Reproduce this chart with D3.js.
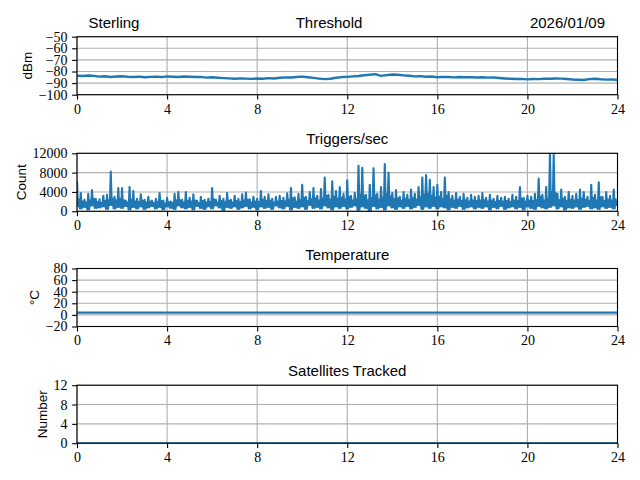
<!DOCTYPE html>
<html>
<head>
<meta charset="utf-8">
<script src="https://cdn.jsdelivr.net/npm/d3@7"></script>
<style>
body { margin: 0; background: #fff; }
.tick text { font-family: "Liberation Serif", "DejaVu Serif", serif; }
</style>
</head>
<body>
<div class="canva"></div>
<script>
// station / date header
const station = "Sterling";
const dateLabel = "2026/01/09";

// hour ticks shared by every panel
const hourTicks = [0, 4, 8, 12, 16, 20, 24];

// threshold, every 15 minutes (dBm)
const thresholdValues = [
  -83.6, -83.9, -83.4, -83.8, -84.4, -84.1, -84.7, -84.3, -84.1, -84.5,
  -84.7, -84.4, -84.9, -84.6, -84.4, -84.8, -84.2, -84.5, -84.7, -84.3,
  -84.5, -84.8, -84.6, -85.3, -85.0, -85.4, -85.7, -85.9, -86.3, -85.9,
  -86.1, -86.4, -86.0, -86.3, -85.7, -86.0, -85.4, -85.1, -85.2, -84.8,
  -84.4, -84.9, -85.5, -86.1, -86.6, -86.2, -85.4, -84.8, -84.6, -84.2,
  -83.9, -83.2, -82.8, -82.3, -83.8, -83.1, -82.6, -82.8, -83.3, -83.7,
  -84.2, -84.0, -84.5, -84.3, -85.0, -84.6, -84.8, -85.1, -84.8, -85.0,
  -84.9, -85.2, -85.0, -85.3, -85.2, -85.6, -86.0, -86.3, -86.5, -86.4,
  -86.8, -86.5, -86.6, -86.3, -86.2, -86.0, -86.1, -86.5, -86.9, -87.1,
  -87.3, -86.6, -86.2, -86.7, -87.0, -86.8, -87.3
];

// triggers/sec: local peaks every 10 minutes
const triggerPeaks = [
  6200, 3800, 2400, 3600, 4400, 2600,
  2500, 3200, 3400, 8200, 3000, 4800,
  4800, 2200, 5000, 4200, 2600, 3500,
  2400, 3000, 2200, 2600, 3800, 2200,
  2800, 2000, 3600, 4000, 2400, 4000,
  2800, 3500, 2200, 3000, 2400, 2600,
  4800, 2400, 3200, 2600, 3800, 2400,
  3200, 2600, 3500, 3900, 2500, 3000,
  2600, 4200, 3000, 3500, 2600, 3000,
  3200, 2800, 3700, 4800, 2900, 3600,
  5500, 3000, 4000, 4800, 3200, 4600,
  7000, 3400, 6200, 4200, 5000, 3600,
  6400, 3200, 3800, 9400, 9000, 3400,
  5500, 8900, 3600, 5000, 9800, 8000,
  3800, 4400, 3000, 4000, 3400, 4500,
  3600, 5000, 7000, 7500, 6500, 5000,
  5500, 4000, 7000, 4000, 3200, 3800,
  3000, 3600, 2800, 3400, 3000, 3200,
  3800, 2800, 3400, 2600, 3200, 2800,
  3000, 2600, 3400, 3000, 5000, 2800,
  3200, 3000, 3600, 6800, 3400, 5000,
  12000, 11800, 3600, 4500, 3000, 4000,
  3200, 3600, 4500, 4000, 3000, 5500,
  3400, 6000, 3000, 4000, 3200, 4500
];

// triggers/sec: secondary maxima inside each 10 minute bin
const triggerShoulders = [
  2400, 2000, 1800, 2200, 2600, 1900,
  1700, 2100, 2300, 2600, 2200, 2500,
  2300, 1800, 2400, 2000, 1900, 2200,
  1800, 2000, 1700, 1900, 2100, 1600,
  1900, 1700, 2200, 2300, 1800, 2100,
  2000, 2200, 1700, 2100, 1800, 1900,
  2500, 1800, 2100, 1900, 2200, 1800,
  2100, 1900, 2200, 2400, 1800, 2000,
  1900, 2400, 2100, 2200, 1800, 2000,
  2100, 2000, 2400, 2700, 2000, 2300,
  2800, 2100, 2500, 2700, 2200, 2600,
  3200, 2400, 3000, 2600, 2800, 2400,
  3000, 2200, 2500, 3400, 3200, 2300,
  2700, 3300, 2400, 2800, 3500, 3100,
  2500, 2700, 2200, 2600, 2300, 2700,
  2400, 2900, 3400, 3600, 3200, 2800,
  3000, 2500, 3200, 2500, 2200, 2400,
  2100, 2300, 2000, 2200, 2100, 2200,
  2300, 2000, 2200, 1900, 2100, 2000,
  2100, 1900, 2200, 2100, 2600, 2000,
  2200, 2100, 2300, 3000, 2200, 2600,
  4000, 3800, 2300, 2600, 2100, 2400,
  2200, 2300, 2600, 2400, 2100, 2800,
  2200, 2900, 2100, 2400, 2200, 2500
];

// triggers/sec: local minima inside each 10 minute bin
const triggerTroughs = [
  1100, 600, 900, 400, 1200, 700,
  800, 1000, 500, 1300, 600, 900,
  700, 1100, 400, 900, 600, 1000,
  500, 800, 1100, 600, 900, 400,
  1000, 700, 500, 1200, 800, 600,
  900, 400, 1100, 700, 500, 1000,
  600, 1200, 800, 300, 900, 700,
  1000, 500, 800, 1100, 600, 900,
  400, 1000, 700, 900, 500, 1200,
  800, 600, 1100, 400, 900, 700,
  1000, 500, 1300, 700, 900, 600,
  1200, 800, 400, 1000, 700, 1100,
  600, 900, 1200, 300, 1000, 700,
  0, 1100, 600, 900, 400, 1200,
  800, 500, 1000, 700, 1100, 600,
  900, 1300, 500, 1000, 700, 1100,
  600, 1000, 800, 400, 900, 700,
  1100, 500, 800, 1000, 600, 900,
  700, 1000, 400, 900, 600, 1100,
  500, 800, 1000, 600, 900, 400,
  1000, 700, 500, 1100, 800, 600,
  900, 1200, 600, 1000, 400, 800,
  700, 1000, 500, 900, 1100, 600,
  800, 500, 1000, 700, 900, 600
];

// hourly temperature (°C) and satellites tracked
const temperatureValues = [4, 4, 4, 4, 4, 4, 4, 4, 4, 4, 4, 4, 4, 4, 4, 4, 4, 4, 4, 4, 4, 4, 4, 4, 4];
const satelliteValues = [0, 0, 0, 0, 0, 0, 0, 0, 0, 0, 0, 0, 0, 0, 0, 0, 0, 0, 0, 0, 0, 0, 0, 0, 0];

// tick values per panel
const thresholdTicks = [-100, -90, -80, -70, -60, -50];
const triggerTicks = [0, 4000, 8000, 12000];
const temperatureTicks = [-20, 0, 20, 40, 60, 80];
const satelliteTicks = [0, 4, 8, 12];

const thresholdSeries = thresholdValues.map((v, i) => ({t: i * 0.25, v}));

// each 10 minute bin: peak, dip, shoulder, dip
const triggerSeries = [];
triggerPeaks.forEach((p, i) => {
  const t0 = i / 6;
  triggerSeries.push({t: t0, v: p});
  triggerSeries.push({t: t0 + 1 / 24, v: triggerTroughs[i]});
  triggerSeries.push({t: t0 + 2 / 24, v: triggerShoulders[i]});
  triggerSeries.push({t: t0 + 3 / 24, v: triggerTroughs[(i + 1) % triggerTroughs.length]});
});
const temperatureSeries = temperatureValues.map((v, i) => ({t: i, v}));
const satelliteSeries = satelliteValues.map((v, i) => ({t: i, v}));

const panels = [
  {title: "Threshold", label: "dBm", series: thresholdSeries, domain: [-100, -50], ticks: thresholdTicks, top: 36.7},
  {title: "Triggers/sec", label: "Count", series: triggerSeries, domain: [0, 12000], ticks: triggerTicks, top: 153.3},
  {title: "Temperature", label: "°C", series: temperatureSeries, domain: [-20, 80], ticks: temperatureTicks, top: 268.5},
  {title: "Satellites Tracked", label: "Number", series: satelliteSeries, domain: [0, 12], ticks: satelliteTicks, top: 385.2}
];

const left = 77, right = 617.5, panelHeight = 58;
const width = right - left;
const blue = "#1f77b4";
const sansFont = "'Liberation Sans', Arial, sans-serif";
const serifFont = "'Liberation Serif', 'DejaVu Serif', serif";

const svg = d3.select(".canva").append("svg")
    .attr("width", 640)
    .attr("height", 480)
    .style("display", "block");

const x = d3.scaleLinear().domain([0, 24]).range([0, width]);

panels.forEach((p, idx) => {
  const y = d3.scaleLinear().domain(p.domain).range([panelHeight, 0]);
  const g = svg.append("g").attr("transform", `translate(${left}, ${p.top})`);

  g.append("clipPath").attr("id", `clip${idx}`)
    .append("rect").attr("width", width).attr("height", panelHeight);

  // grid
  g.append("g").selectAll("line").data(hourTicks).join("line")
    .attr("x1", d => x(d)).attr("x2", d => x(d))
    .attr("y1", 0).attr("y2", panelHeight)
    .attr("stroke", "#b0b0b0").attr("stroke-width", 1.1);
  g.append("g").selectAll("line").data(p.ticks).join("line")
    .attr("x1", 0).attr("x2", width)
    .attr("y1", d => y(d)).attr("y2", d => y(d))
    .attr("stroke", "#b0b0b0").attr("stroke-width", 1.1);

  // data line
  g.append("path")
    .datum(p.series)
    .attr("clip-path", `url(#clip${idx})`)
    .attr("fill", "none")
    .attr("stroke", blue)
    .attr("stroke-width", idx === 0 ? 2.4 : 2.1)
    .attr("stroke-linejoin", "round")
    .attr("d", d3.line().x(d => x(d.t)).y(d => y(d.v)));

  // axes
  const xAxis = g.append("g")
    .attr("transform", `translate(0, ${panelHeight})`)
    .call(d3.axisBottom(x).tickValues(hourTicks).tickFormat(d3.format("d")).tickSize(4.9).tickPadding(4));
  const yAxis = g.append("g")
    .call(d3.axisLeft(y).tickValues(p.ticks).tickFormat(d3.format("d")).tickSize(4.9).tickPadding(4.5));

  [xAxis, yAxis].forEach(a => {
    a.attr("font-family", serifFont).attr("font-size", 14);
    a.select(".domain").remove();
    a.selectAll(".tick line").attr("stroke", "#000").attr("stroke-width", 1.1);
    a.selectAll(".tick text")
      .attr("fill", "#000")
      .attr("font-family", serifFont)
      .style("font-family", serifFont)
      .style("font-size", "14px");
  });

  // spines
  g.append("rect")
    .attr("width", width).attr("height", panelHeight)
    .attr("fill", "none").attr("stroke", "#000").attr("stroke-width", 1.1);

  // y label
  const bb = yAxis.node().getBBox();
  g.append("text")
    .attr("transform", `translate(${bb.x - 7}, ${panelHeight / 2}) rotate(-90)`)
    .attr("text-anchor", "middle")
    .style("font-family", sansFont)
    .style("font-size", "13.5px")
    .text(p.label);

  // title
  const titleX = idx === 0 ? 329 - left : width / 2;
  g.append("text")
    .attr("x", titleX).attr("y", -9)
    .attr("text-anchor", "middle")
    .style("font-family", sansFont)
    .style("font-size", "15px")
    .text(p.title);

  if (idx === 0) {
    g.append("text")
      .attr("x", 88.6 - left).attr("y", -9)
      .style("font-family", sansFont)
      .style("font-size", "15px")
      .text(station);
    g.append("text")
      .attr("x", 605 - left).attr("y", -9)
      .attr("text-anchor", "end")
      .style("font-family", sansFont)
      .style("font-size", "15px")
      .text(dateLabel);
  }
});
</script>
</body>
</html>
